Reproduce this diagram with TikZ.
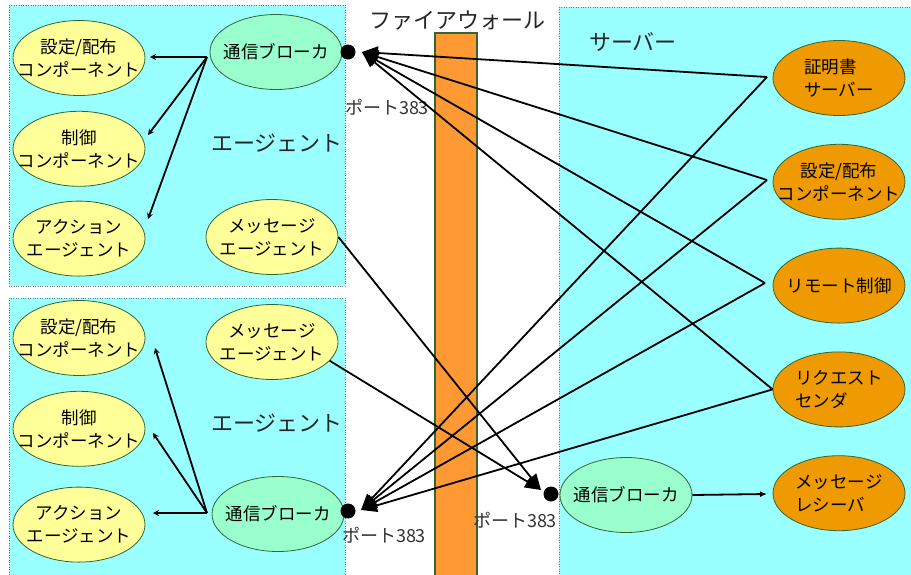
\documentclass[tikz,border=0pt]{standalone}
\usepackage{fontspec}
\setmainfont{Noto Sans CJK JP}
\usetikzlibrary{arrows.meta,positioning,shapes.geometric}
\definecolor{agentbg}{HTML}{99FFFF}
\definecolor{compfill}{HTML}{FFFF99}
\definecolor{brokerfill}{HTML}{99FFCC}
\definecolor{serverfill}{HTML}{EE9A00}
\definecolor{wallfill}{HTML}{FF9933}
\definecolor{rimgreen}{HTML}{336633}

\begin{document}
\begin{tikzpicture}[x=1pt,y=-1pt,font=\fontsize{17.5}{23}\selectfont,node distance=15pt,
 oval/.style={ellipse,draw=rimgreen,line width=0.8pt,inner xsep=-15pt,inner ysep=0pt,minimum width=132pt,minimum height=75pt,align=center},
 comp/.style={oval,fill=compfill},
 broker/.style={oval,fill=brokerfill},
 srv/.style={oval,fill=serverfill,align=left},
 area/.style={draw=black!55,dotted,fill=agentbg},
 port/.style={circle,fill=black,inner sep=0pt,minimum size=15pt},
 portlabel/.style={font=\fontsize{18}{18}\selectfont,text=black!80},
 title/.style={font=\fontsize{22}{22}\selectfont,text=black!85},
 fan/.style={-{Stealth[length=6pt,width=6pt]},line width=1.8pt},
 link/.style={-{Triangle[length=16pt,width=13pt]},line width=1.8pt}]
\fill[white] (0,0) rectangle (911,574);
\useasboundingbox (0,0) rectangle (911,574);

% areas and firewall
\draw[area] (9,5) rectangle (345,286);
\draw[area] (9,298) rectangle (345,580);
\draw[area] (559,7) rectangle (915,580);
\draw[fill=wallfill,draw=rimgreen,line width=1.2pt] (435,33) rectangle (477,580);
\node[title] (wall) at (457,21) {ファイアウォール};
\node[title] (agentA) at (277,143) {エージェント};
\node[title] (agentB) at (277,423) {エージェント};
\node[title] (server) at (633,42) {サーバー};

% upper agent
\node[comp] (setA) at (79,58) {設定/配布\\コンポーネント};
\node[comp,below=of setA] (ctrlA) {制御\\コンポーネント};
\node[comp,below=14pt of ctrlA] (actA) {アクション\\エージェント};
\node[broker] (brokerA) at (276,52) {通信ブローカ};
\node[comp] (msgA) at (272,237) {メッセージ\\エージェント};
\node[port] (dotA) at (348,52) {};
\node[portlabel] (portA) at (387,107) {ポート383};

% lower agent
\node[comp] (setB) at (79,338) {設定/配布\\コンポーネント};
\node[comp,below=of setB] (ctrlB) {制御\\コンポーネント};
\node[comp,below=20pt of ctrlB] (actB) {アクション\\エージェント};
\node[comp] (msgB) at (272,342) {メッセージ\\エージェント};
\node[broker] (brokerB) at (278,514) {通信ブローカ};
\node[port] (dotB) at (348,511) {};
\node[portlabel] (portB) at (384,535) {ポート383};

% server
\node[srv] (cert) at (839,78) {証明書\\サーバー};
\node[srv,align=center,below=28pt of cert] (setS) {設定/配布\\コンポーネント};
\node[srv,below=28pt of setS] (remote) {リモート制御};
\node[srv,below=28pt of remote] (req) {リクエスト\\センダ};
\node[srv,below=28pt of req] (recv) {メッセージ\\レシーバ};
\node[broker] (brokerS) at (626,495) {通信ブローカ};
\node[port] (dotS) at (551,494) {};
\node[portlabel] (portS) at (515,520) {ポート383};

% connector ends
\coordinate (fanA) at (207,57);
\coordinate (toSetA) at (150,57);
\coordinate (toCtrlA) at (148,135);
\coordinate (toActA) at (148,219);
\coordinate (fanB) at (207,513);
\coordinate (toSetB) at (155,348);
\coordinate (toCtrlB) at (153,433);
\coordinate (toActB) at (153,513);
\coordinate (inA) at (362,52);
\coordinate (inB) at (361,510);
\coordinate (inS) at (541,490);
\coordinate (certL) at (767,77);
\coordinate (setSL) at (767,180);
\coordinate (remoteL) at (765,283);
\coordinate (recvL) at (767,494);

\draw[fan] (fanA) -- (toSetA);
\draw[fan] (fanA) -- (toCtrlA);
\draw[fan] (fanA) -- (toActA);
\draw[fan] (fanB) -- (toSetB);
\draw[fan] (fanB) -- (toCtrlB);
\draw[fan] (fanB) -- (toActB);

\draw[link] (certL) -- (inA);
\draw[link] (setSL) -- (inA);
\draw[link] (remoteL) -- (inA);
\draw[link] (req.west) -- (inA);
\draw[link] (certL) -- (inB);
\draw[link] (setSL) -- (inB);
\draw[link] (remoteL) -- (inB);
\draw[link] (req.west) -- (inB);
\draw[link] (msgA.east) -- (inS);
\draw[link] (msgB.-18) -- (inS);
\draw[-{Latex[length=7pt,width=6pt]},line width=1.8pt] (brokerS.east) -- (recvL);
\end{tikzpicture}
\end{document}
